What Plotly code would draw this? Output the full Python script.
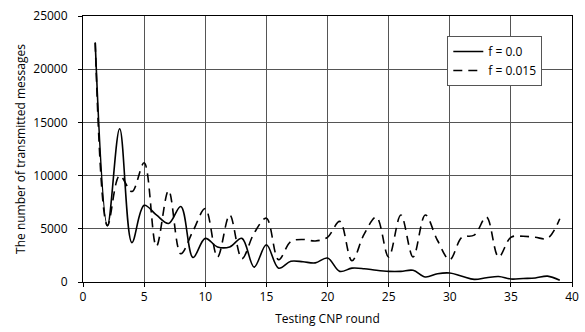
import plotly.graph_objects as go

rounds = list(range(1, 40))
f_00 = [22500, 5300, 14400, 3700, 7200, 6300, 5500, 7100, 2300, 4100,
        3300, 3300, 4100, 1400, 3500, 1300, 1950, 1900, 1800, 2250,
        1000, 1300, 1250, 1100, 1000, 1000, 1100, 470, 780, 850,
        550, 250, 400, 520, 280, 330, 380, 550, 160]
f_015 = [22500, 5300, 10000, 8500, 11200, 3350, 8600, 2650, 4800, 6900,
         2350, 6300, 2200, 4600, 6000, 2100, 3800, 4000, 3860, 4200,
         5700, 2000, 4500, 6100, 2350, 6300, 2350, 6300, 3900, 2100,
         4200, 4400, 6100, 2350, 4200, 4300, 4200, 4100, 5950]

font = "Open Sans"

fig = go.Figure()
fig.add_trace(go.Scatter(x=rounds, y=f_00, mode="lines", name="f = 0.0",
                         line=dict(color="black", width=1.6, shape="spline", smoothing=1.0)))
fig.add_trace(go.Scatter(x=rounds, y=f_015, mode="lines", name="f = 0.015",
                         line=dict(color="black", width=1.6, shape="spline", smoothing=1.0,
                                   dash="9px,6px")))

fig.update_layout(
    width=585, height=332,
    margin=dict(l=83, r=6, t=16, b=50),
    paper_bgcolor="white", plot_bgcolor="white",
    font=dict(family=font, size=12, color="black"),
    showlegend=True,
    legend=dict(x=0.745, y=0.925, xanchor="left", yanchor="top",
                bgcolor="white", bordercolor="#555555", borderwidth=1,
                font=dict(family=font, size=12), tracegroupgap=0,
                itemwidth=30),
    xaxis=dict(range=[0, 40], dtick=5, tick0=0, showgrid=True, gridcolor="#555555", gridwidth=1,
               showline=True, linecolor="black", linewidth=1, mirror=True,
               ticks="outside", ticklen=4, tickcolor="black", zeroline=False,
               tickformat="d", ticklabeloverflow="allow",
               title=dict(text="Testing CNP round", font=dict(size=12), standoff=10)),
    yaxis=dict(range=[0, 25000], dtick=5000, tick0=0, showgrid=True, gridcolor="#555555", gridwidth=1,
               showline=True, linecolor="black", linewidth=1, mirror=True,
               ticks="outside", ticklen=4, tickcolor="black", zeroline=False,
               tickformat="d", ticklabelstandoff=8,
               title=dict(text="The number of transmitted messages", font=dict(size=12), standoff=5)),
)

fig.write_html("out.html", config={"displayModeBar": False},
               post_script="document.body.style.margin='0';document.body.style.overflow='hidden';")
